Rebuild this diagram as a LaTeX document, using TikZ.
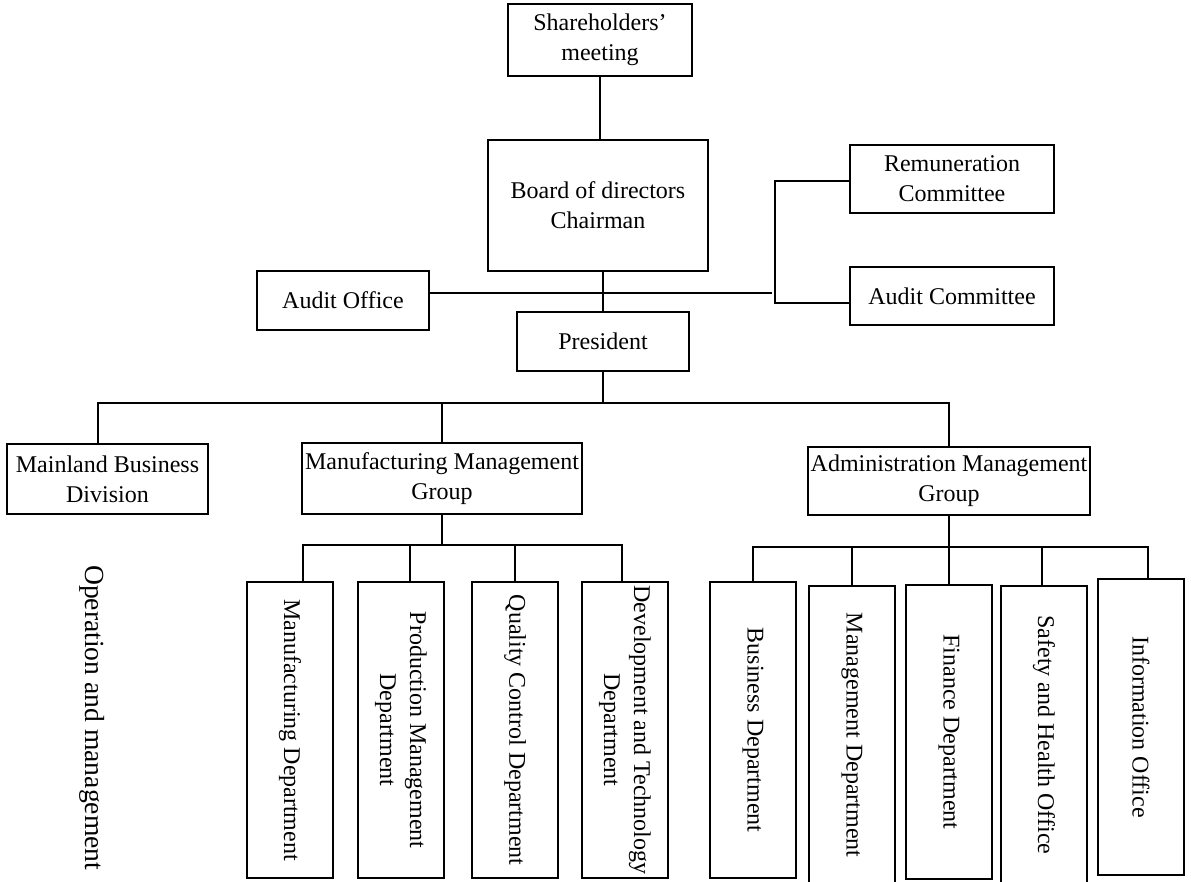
\documentclass[tikz,border=0pt]{standalone}
\usepackage{fontspec}
\setmainfont{Liberation Serif}
\usepackage{graphicx}
\begin{document}
\begin{tikzpicture}[x=1pt,y=-1pt,
  box/.style={draw, line width=1.7pt, inner sep=0pt, align=center,
    font=\fontsize{24}{30}\selectfont},
  vbox/.style={box, minimum width=86pt},
  link/.style={line width=1.7pt}]
\fill[white] (0,0) rectangle (1191,881);
\useasboundingbox (0,0) rectangle (1191,881);

% top level
\node[box, minimum width=184pt, minimum height=72pt] (sh) at (600,40) {Shareholders’\\meeting};
\node[box, minimum width=220pt, minimum height=131pt] (bd) at (598,205.5) {Board of directors\\Chairman};
\node[box, minimum width=204pt, minimum height=68pt] (rem) at (952,179) {Remuneration\\Committee};
\node[box, minimum width=204pt, minimum height=58pt] (acm) at (952,296) {Audit Committee};
\node[box, minimum width=172pt, minimum height=59pt] (ao) at (343,300.5) {Audit Office};
\node[box, minimum width=172pt, minimum height=59pt] (pr) at (603,341.5) {President};

% second level
\node[box, minimum width=201pt, minimum height=70pt] (mb) at (107.5,479) {Mainland Business\\Division};
\node[box, minimum width=280pt, minimum height=71pt] (mmg) at (442,478.5) {Manufacturing Management\\Group};
\node[box, minimum width=282pt, minimum height=68pt] (amg) at (949,481) {Administration Management\\Group};

% side label
\node[rotate=-90, anchor=west, inner sep=0pt, font=\fontsize{27.6}{32}\selectfont] (op) at (92,565) {Operation and management};

% manufacturing departments
\node[vbox, minimum height=296pt] (md) at (290,730) {\rotatebox{-90}{Manufacturing Department}};
\node[vbox, minimum height=296pt] (pmd) at (401,730) {\rotatebox{-90}{\begin{tabular}{@{}c@{}}Production Management\\Department\end{tabular}}};
\node[vbox, minimum height=296pt] (qcd) at (515,730) {\rotatebox{-90}{Quality Control Department}};
\node[vbox, minimum height=296pt] (dtd) at (625,730) {\rotatebox{-90}{\begin{tabular}{@{}c@{}}Development and Technology\\Department\end{tabular}}};

% administration departments
\node[vbox, minimum height=296pt] (bsd) at (753,730) {\rotatebox{-90}{Business Department}};
\node[vbox, minimum height=298pt] (mgd) at (852,735) {\rotatebox{-90}{Management Department}};
\node[vbox, minimum height=294pt] (fd) at (949,732) {\rotatebox{-90}{Finance Department}};
\node[vbox, minimum height=298pt] (sho) at (1044,735) {\rotatebox{-90}{Safety and Health Office}};
\node[vbox, minimum height=296pt] (io) at (1141,727) {\rotatebox{-90}{Information Office}};

% connector coordinates
\coordinate (aj) at (0,293);
\coordinate (bj) at (772,293);
\coordinate (rt) at (775,181);
\coordinate (rb) at (775,303);
\coordinate (bus) at (603,403);
\coordinate (mbus) at (442,545);
\coordinate (abus) at (949,547);

% top connectors
\draw[link] (sh.south) -- (sh.south |- bd.north);
\draw[link] (pr.north |- bd.south) -- (pr.north);
\draw[link] (ao.east |- aj) -- (bj);
\draw[link] (rem.west |- rt) -- (rt) -- (rb) -- (acm.west |- rb);

% president to groups
\draw[link] (pr.south) -- (bus);
\draw[link] ([xshift=-9.5pt]mb.north) |- (bus) -| (amg.north);
\draw[link] (mmg.north) -- (mmg.north |- bus);

% manufacturing group
\draw[link] (mmg.south) -- (mbus);
\draw[link] ([xshift=13pt]md.north) |- (mbus) -| ([xshift=-3pt]dtd.north);
\draw[link] ([xshift=9pt]pmd.north) -- ++(0,-37);
\draw[link] (qcd.north) -- (qcd.north |- mbus);

% administration group
\draw[link] (amg.south) -- (abus);
\draw[link] (bsd.north) |- (abus) -| ([xshift=7pt]io.north);
\draw[link] (mgd.north) -- (mgd.north |- abus);
\draw[link] (fd.north) -- (abus);
\draw[link] ([xshift=-2pt]sho.north) -- ++(0,-39);
\end{tikzpicture}
\end{document}
